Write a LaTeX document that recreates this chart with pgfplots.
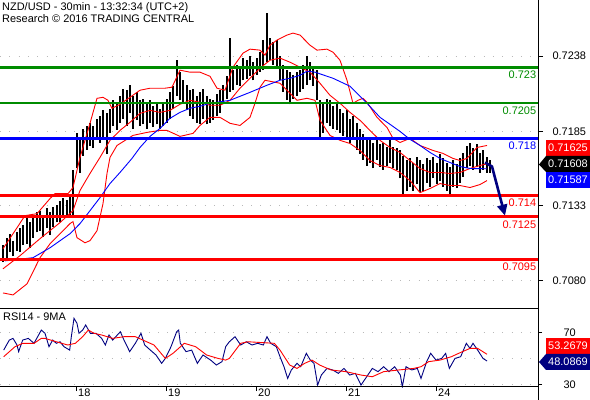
\documentclass[border=0pt]{standalone}
\usepackage{pgfplots}
\pgfplotsset{compat=1.18}
\usepackage{pgfplotstable}
\usepackage{fontspec}
\setmainfont{Liberation Sans}
\usetikzlibrary{arrows.meta}
\definecolor{lvgreen}{RGB}{0,140,0}
\definecolor{navy}{RGB}{0,0,128}
\definecolor{gridgray}{RGB}{185,185,185}

\pgfplotstableread{
i hi lo
1 0.7105 0.7093
2 0.7110 0.7095
3 0.7113 0.7100
4 0.7108 0.7097
5 0.7114 0.7101
6 0.7117 0.7100
7 0.7119 0.7105
8 0.7124 0.7106
9 0.7121 0.7103
10 0.7126 0.7110
11 0.7128 0.7114
12 0.7129 0.7115
13 0.7126 0.7111
14 0.7131 0.7117
15 0.7128 0.7112
16 0.7132 0.7118
17 0.7133 0.7121
18 0.7136 0.7121
19 0.7138 0.7125
20 0.7137 0.7124
21 0.7139 0.7126
22 0.7158 0.7124
23 0.7184 0.7159
24 0.7179 0.7156
25 0.7187 0.7168
26 0.7189 0.7172
27 0.7191 0.7175
28 0.7189 0.7173
29 0.7194 0.7179
30 0.7196 0.7177
31 0.7200 0.7179
32 0.7198 0.7169
33 0.7201 0.7184
34 0.7207 0.7189
35 0.7204 0.7186
36 0.7210 0.7191
37 0.7215 0.7194
38 0.7214 0.7189
39 0.7218 0.7198
40 0.7210 0.7187
41 0.7213 0.7193
42 0.7207 0.7189
43 0.7208 0.7190
44 0.7204 0.7187
45 0.7207 0.7191
46 0.7203 0.7188
47 0.7205 0.7190
48 0.7201 0.7187
49 0.7204 0.7189
50 0.7208 0.7191
51 0.7213 0.7194
52 0.7217 0.7201
53 0.7235 0.7210
54 0.7227 0.7207
55 0.7221 0.7206
56 0.7218 0.7200
57 0.7214 0.7196
58 0.7215 0.7194
59 0.7210 0.7191
60 0.7213 0.7190
61 0.7215 0.7194
62 0.7210 0.7190
63 0.7208 0.7191
64 0.7207 0.7193
65 0.7211 0.7196
66 0.7214 0.7198
67 0.7218 0.7204
68 0.7224 0.7208
69 0.7251 0.7213
70 0.7228 0.7214
71 0.7232 0.7218
72 0.7231 0.7217
73 0.7237 0.7221
74 0.7235 0.7222
75 0.7238 0.7224
76 0.7234 0.7221
77 0.7237 0.7225
78 0.7241 0.7227
79 0.7249 0.7228
80 0.7268 0.7234
81 0.7251 0.7235
82 0.7248 0.7232
83 0.7249 0.7229
84 0.7238 0.7221
85 0.7232 0.7213
86 0.7228 0.7207
87 0.7227 0.7204
88 0.7225 0.7208
89 0.7227 0.7210
90 0.7228 0.7213
91 0.7232 0.7215
92 0.7238 0.7218
93 0.7234 0.7221
94 0.7231 0.7217
95 0.7228 0.7207
96 0.7207 0.7179
97 0.7204 0.7184
98 0.7208 0.7191
99 0.7207 0.7189
100 0.7203 0.7187
101 0.7206 0.7186
102 0.7201 0.7184
103 0.7198 0.7182
104 0.7200 0.7180
105 0.7194 0.7177
106 0.7196 0.7179
107 0.7191 0.7172
108 0.7187 0.7169
109 0.7183 0.7165
110 0.7180 0.7161
111 0.7179 0.7163
112 0.7177 0.7159
113 0.7181 0.7165
114 0.7176 0.7160
115 0.7177 0.7158
116 0.7174 0.7161
117 0.7179 0.7163
118 0.7174 0.7159
119 0.7173 0.7158
120 0.7172 0.7152
121 0.7168 0.7141
122 0.7165 0.7143
123 0.7166 0.7146
124 0.7163 0.7143
125 0.7167 0.7148
126 0.7165 0.7142
127 0.7162 0.7143
128 0.7166 0.7149
129 0.7165 0.7146
130 0.7167 0.7152
131 0.7163 0.7148
132 0.7169 0.7150
133 0.7166 0.7146
134 0.7163 0.7143
135 0.7160 0.7141
136 0.7165 0.7146
137 0.7162 0.7145
138 0.7166 0.7149
139 0.7170 0.7153
140 0.7175 0.7159
141 0.7177 0.7161
142 0.7173 0.7158
143 0.7176 0.7160
144 0.7170 0.7156
145 0.7172 0.7158
146 0.7167 0.7156
147 0.7165 0.7156
}\bars

\pgfplotsset{every axis/.append style={font=\fontsize{11}{13}\selectfont}}

\begin{document}
\begin{tikzpicture}[every node/.style={font=\fontsize{11}{13}\selectfont}]
\path[use as bounding box] (0bp,0bp) rectangle (590bp,400bp);

% ---------------- main price panel ----------------
\begin{axis}[
  scale only axis, width=538bp, height=309bp,
  at={(0bp,400bp)}, anchor=north west,
  xmin=0, xmax=161.4, ymin=0.70600, ymax=0.72775,
  axis line style={draw=none},
  xtick=\empty,
  ytick={0.7238,0.7185,0.7133,0.7080},
  yticklabels={0.7238,0.7185,0.7133,0.7080},
  ytick pos=right, yticklabel pos=right,
  tick align=outside, major tick length=5bp,
  tick style={black, line width=0.8bp},
  yticklabel style={anchor=west, xshift=6bp},
  ymajorgrids, major grid style={gridgray, line width=0.8bp, dash pattern=on 0.8bp off 8.5bp},
]
% price bars (high-low)
\addplot[draw=none, mark=none,
  error bars/.cd, y dir=plus, y explicit, error mark=none,
  error bar style={draw=black, solid, line width=1.7bp}]
  table[x=i, y=lo, y error expr=\thisrow{hi}-\thisrow{lo}] {\bars};

% Bollinger upper
\addplot[red, line width=0.9bp, mark=none] coordinates {
(0.9,0.71024)(4.5,0.71151)(7.5,0.71257)(11.1,0.71271)(15,0.71377)(16.5,0.71412)(20.4,0.71412)(21.9,0.71455)
(24,0.71667)(27,0.71907)(29.1,0.72083)(30.9,0.72090)(32.4,0.72069)(33.6,0.72013)(36,0.72041)(39,0.72090)
(42,0.72140)(45,0.72154)(49.5,0.72154)(51.6,0.72161)(54,0.72281)(57,0.72267)(60,0.72267)(63,0.72238)
(65.1,0.72154)(67.5,0.72140)(69.9,0.72302)(72.9,0.72401)(75,0.72429)(78,0.72422)(79.5,0.72387)(81,0.72457)
(83.1,0.72493)(86.1,0.72528)(87.9,0.72542)(90,0.72528)(93,0.72457)(95.1,0.72422)(98.1,0.72429)(99.9,0.72408)
(102,0.72351)(104.1,0.72210)(105.9,0.72048)(107.4,0.72069)(108.9,0.72083)(110.1,0.72055)(113.1,0.71949)
(116.1,0.71878)(117.9,0.71801)(120,0.71772)(123,0.71801)(126,0.71751)(129.9,0.71716)(132.9,0.71695)
(135.9,0.71660)(138,0.71645)(140.1,0.71660)(143.1,0.71737)(146.1,0.71751)};
% Bollinger middle
\addplot[red, line width=0.9bp, mark=none] coordinates {
(0.9,0.70883)(6,0.70975)(12,0.71095)(18,0.71208)(21.9,0.71292)(24,0.71434)(27,0.71554)(30,0.71667)
(33,0.71787)(36,0.71857)(39,0.71914)(42,0.71977)(45,0.71998)(48,0.71984)(51,0.71998)(54,0.72041)
(57,0.72069)(60,0.72055)(63,0.72034)(66,0.72034)(69,0.72069)(72,0.72154)(75,0.72224)(78,0.72295)
(81,0.72351)(84,0.72366)(87,0.72337)(90,0.72302)(93,0.72267)(96,0.72189)(99,0.72104)(102,0.72048)
(105,0.71984)(108,0.71928)(111,0.71857)(114,0.71787)(117,0.71737)(120,0.71702)(123,0.71645)
(126,0.71589)(129,0.71561)(132,0.71561)(135,0.71554)(138,0.71561)(141,0.71589)(144,0.71610)(146.4,0.71624)};
% Bollinger lower
\addplot[red, line width=0.9bp, mark=none] coordinates {
(0.9,0.70713)(3.9,0.70699)(8.1,0.70777)(12,0.70961)(15,0.71059)(18,0.71130)(21,0.71201)(21.9,0.71215)
(23.1,0.71102)(25.5,0.71066)(27,0.71081)(29.1,0.71151)(30.9,0.71342)(32.1,0.71554)(33,0.71667)(35.1,0.71751)
(39.9,0.71822)(44.1,0.71843)(48,0.71857)(50.1,0.71857)(54,0.71815)(57.9,0.71836)(60,0.71892)(63,0.71949)
(66,0.71949)(69,0.71907)(72,0.71892)(75,0.71949)(76.5,0.72048)(78,0.72161)(79.5,0.72210)(84,0.72189)
(87,0.72118)(89.1,0.72069)(92.1,0.72083)(94.5,0.72069)(96,0.71928)(99,0.71822)(102,0.71787)(105,0.71765)
(108,0.71716)(111,0.71645)(114,0.71610)(117,0.71596)(120,0.71561)(123,0.71504)(126,0.71419)(129,0.71448)
(132,0.71483)(135,0.71469)(138,0.71469)(141,0.71455)(144,0.71476)(146.1,0.71504)};
% moving average (blue)
\addplot[blue, line width=0.9bp, mark=none] coordinates {
(1.5,0.70939)(9.9,0.70961)(15,0.71031)(21,0.71130)(24,0.71201)(27,0.71292)(30,0.71384)(33,0.71483)
(36,0.71561)(39.6,0.71660)(42,0.71737)(45,0.71815)(48,0.71871)(51,0.71942)(54,0.71984)(57,0.72013)
(60,0.72027)(63,0.72048)(69,0.72069)(75,0.72125)(80.1,0.72175)(84,0.72210)(87,0.72224)(90,0.72245)
(92.1,0.72274)(94.5,0.72267)(99.9,0.72224)(105,0.72168)(110.1,0.72048)(114,0.71949)(117,0.71900)
(120,0.71850)(123,0.71794)(126,0.71751)(129,0.71702)(132,0.71660)(135,0.71631)(138,0.71603)
(141,0.71589)(146.1,0.71587)};

% levels
\addplot[lvgreen, line width=2.5bp, mark=none] coordinates {(0,0.7230)(161.4,0.7230)};
\addplot[lvgreen, line width=2.5bp, mark=none] coordinates {(0,0.7205)(161.4,0.7205)};
\addplot[blue, line width=2.5bp, mark=none] coordinates {(0,0.7180)(161.4,0.7180)};
\addplot[red, line width=2.5bp, mark=none] coordinates {(0,0.7140)(161.4,0.7140)};
\addplot[red, line width=2.5bp, mark=none] coordinates {(0,0.7125)(161.4,0.7125)};
\addplot[red, line width=2.5bp, mark=none] coordinates {(0,0.7095)(161.4,0.7095)};

\node[anchor=north east, inner sep=0pt, text=lvgreen, yshift=-3.5bp] at (axis cs:160.9,0.7230) {0.723};
\node[anchor=north east, inner sep=0pt, text=lvgreen, yshift=-3.5bp] at (axis cs:160.9,0.7205) {0.7205};
\node[anchor=north east, inner sep=0pt, text=blue, yshift=-3.5bp] at (axis cs:160.9,0.7180) {0.718};
\node[anchor=north east, inner sep=0pt, text=red, yshift=-3.5bp] at (axis cs:160.9,0.7140) {0.714};
\node[anchor=north east, inner sep=0pt, text=red, yshift=-3.5bp] at (axis cs:160.9,0.7125) {0.7125};
\node[anchor=north east, inner sep=0pt, text=red, yshift=-3.5bp] at (axis cs:160.9,0.7095) {0.7095};

% forecast arrow
\addplot[navy, line width=2.6bp, mark=none, -{Triangle[width=10bp,length=11bp]}] coordinates {
(145.5,0.71631)(147.6,0.71603)(151.5,0.71257)};
\end{axis}

% ---------------- RSI panel ----------------
\begin{axis}[
  scale only axis, width=538bp, height=78bp,
  at={(0bp,91bp)}, anchor=north west,
  xmin=0, xmax=161.4, ymin=28.1, ymax=88.1,
  axis line style={draw=none},
  xtick={22.8,49.8,76.8,103.8,130.8},
  xticklabels={18,19,20,21,24},
  xtick pos=bottom,
  ytick={30,70}, yticklabels={30,70},
  ytick pos=right, yticklabel pos=right,
  tick align=outside, major tick length=4bp,
  tick style={black, line width=0.8bp},
  yticklabel style={anchor=west, xshift=18bp},
  xticklabel style={anchor=north west, inner sep=0pt, xshift=2bp, yshift=2bp},
]
\addplot[gridgray, line width=0.8bp, dash pattern=on 0.8bp off 8.5bp, mark=none] coordinates {(0,70)(161.4,70)};
\addplot[gridgray, line width=0.8bp, dash pattern=on 0.8bp off 8.5bp, mark=none] coordinates {(0,50)(161.4,50)};
\addplot[gridgray, line width=0.8bp, dash pattern=on 0.8bp off 8.5bp, mark=none] coordinates {(0,30)(161.4,30)};
% RSI 14
\addplot[navy, line width=0.9bp, mark=none] coordinates {
(1.1,56.5)(2.8,64.2)(3.9,65.5)(5.1,60.4)(5.6,55.3)(6.8,64.2)(8.5,65.5)(10.2,61.7)(11.3,66.8)(12.4,71.9)
(13.5,69.4)(14.7,59.1)(15.8,64.2)(16.9,61.7)(18.0,62.9)(19.2,59.1)(20.9,56.5)(21.4,66.8)(22.2,80.9)(23.1,77.1)
(23.7,69.4)(24.8,71.9)(25.7,75.8)(27.1,69.4)(28.8,69.4)(30.5,65.5)(31.6,60.4)(32.7,68.1)(33.8,64.2)(36.1,70.6)
(37.2,64.2)(38.9,55.3)(40.6,61.7)(42.3,69.4)(43.4,60.4)(45.1,56.5)(46.8,52.7)(48.5,46.3)(49.6,50.1)(51.3,59.1)
(53.0,70.6)(53.6,71.9)(54.1,61.7)(55.8,55.3)(57.5,56.5)(59.2,46.3)(60.9,52.7)(63.2,48.8)(64.9,45.0)(66.6,47.6)
(67.7,59.1)(68.8,62.9)(70.5,66.8)(72.2,60.4)(73.9,62.9)(75.6,60.4)(77.3,61.7)(79.0,60.4)(80.1,66.8)(81.2,61.7)
(82.9,59.1)(84.0,51.4)(85.2,43.7)(86.3,34.7)(87.4,41.2)(89.1,46.3)(90.2,43.7)(91.9,54.0)(93.1,48.8)(94.2,46.3)
(95.3,29.6)(96.4,37.3)(98.1,42.4)(99.8,41.2)(101.5,38.6)(103.2,42.4)(104.9,37.3)(106.6,38.6)(108.3,29.6)(110.0,36.0)
(111.7,42.4)(113.4,39.9)(115.1,43.7)(116.7,39.9)(118.4,43.7)(120.1,37.3)(120.7,28.3)(121.8,43.7)(123.5,41.2)(125.2,42.4)
(126.3,34.7)(128.0,47.6)(129.2,54.0)(130.8,48.8)(132.5,50.1)(133.7,54.0)(134.8,42.4)(136.5,50.1)(138.2,51.4)(139.9,61.7)
(141.0,57.8)(141.9,61.7)(143.3,56.5)(144.9,50.1)(146.1,48.09)};
% 9MA of RSI
\addplot[red, line width=0.9bp, mark=none] coordinates {
(1.1,51.4)(4.5,59.1)(6.8,61.7)(10.2,61.7)(12.4,65.5)(13.5,65.5)(16.9,62.9)(20.3,60.4)(22.6,61.7)(24.8,66.8)
(26.5,71.9)(28.2,69.4)(30.5,68.1)(33.8,65.5)(37.2,66.8)(40.6,66.8)(44.0,62.9)(46.2,60.4)(49.6,50.1)(51.9,54.0)
(55.3,61.7)(58.7,59.1)(62.0,52.7)(65.4,50.1)(67.7,48.8)(68.8,50.1)(72.2,61.7)(74.4,62.9)(79.0,62.2)(82.3,61.7)
(84.0,56.5)(86.9,45.0)(89.1,42.4)(91.4,46.3)(93.6,48.8)(95.9,45.0)(99.3,41.2)(103.8,39.9)(108.3,37.3)(111.7,36.0)
(115.1,39.9)(119.6,41.2)(124.1,42.4)(126.3,43.7)(128.6,47.6)(132.0,48.8)(135.4,51.4)(137.6,54.0)(141.0,57.8)
(143.3,57.8)(146.1,53.27)};
\end{axis}

% ---------------- frame lines, titles, value boxes (pixel coordinates) ----------------
\begin{scope}[x=1bp, y=-1bp, shift={(0bp,400bp)}]
\draw[black, line width=1bp] (538,0) -- (538,400);
\draw[black, line width=1bp] (0,309) -- (538,309);
\draw[black, line width=1bp] (0,387) -- (538,387);

\node[anchor=base west, inner sep=0pt] at (2,10.5) {NZD/USD - 30min - 13:32:34 (UTC+2)};
\node[anchor=base west, inner sep=0pt] at (2,23) {Research © 2016 TRADING CENTRAL};
\node[anchor=base west, inner sep=0pt] at (3,321) {RSI14 - 9MA};

\fill[red] (546,140) rectangle (590,156);
\node[anchor=west, inner sep=0pt, text=white] at (548,148) {0.71625};
\fill[black] (539,164.5) -- (546,156) -- (590,156) -- (590,172) -- (546,172) -- cycle;
\node[anchor=west, inner sep=0pt, text=white] at (548,164) {0.71608};
\fill[blue] (546,172) rectangle (590,188);
\node[anchor=west, inner sep=0pt, text=white] at (548,180) {0.71587};

\fill[red] (546,338) rectangle (590,354);
\node[anchor=west, inner sep=0pt, text=white] at (548,346) {53.2679};
\fill[navy] (539,362) -- (546,354) -- (590,354) -- (590,370) -- (546,370) -- cycle;
\node[anchor=west, inner sep=0pt, text=white] at (548,362) {48.0869};
\end{scope}
\end{tikzpicture}
\end{document}
